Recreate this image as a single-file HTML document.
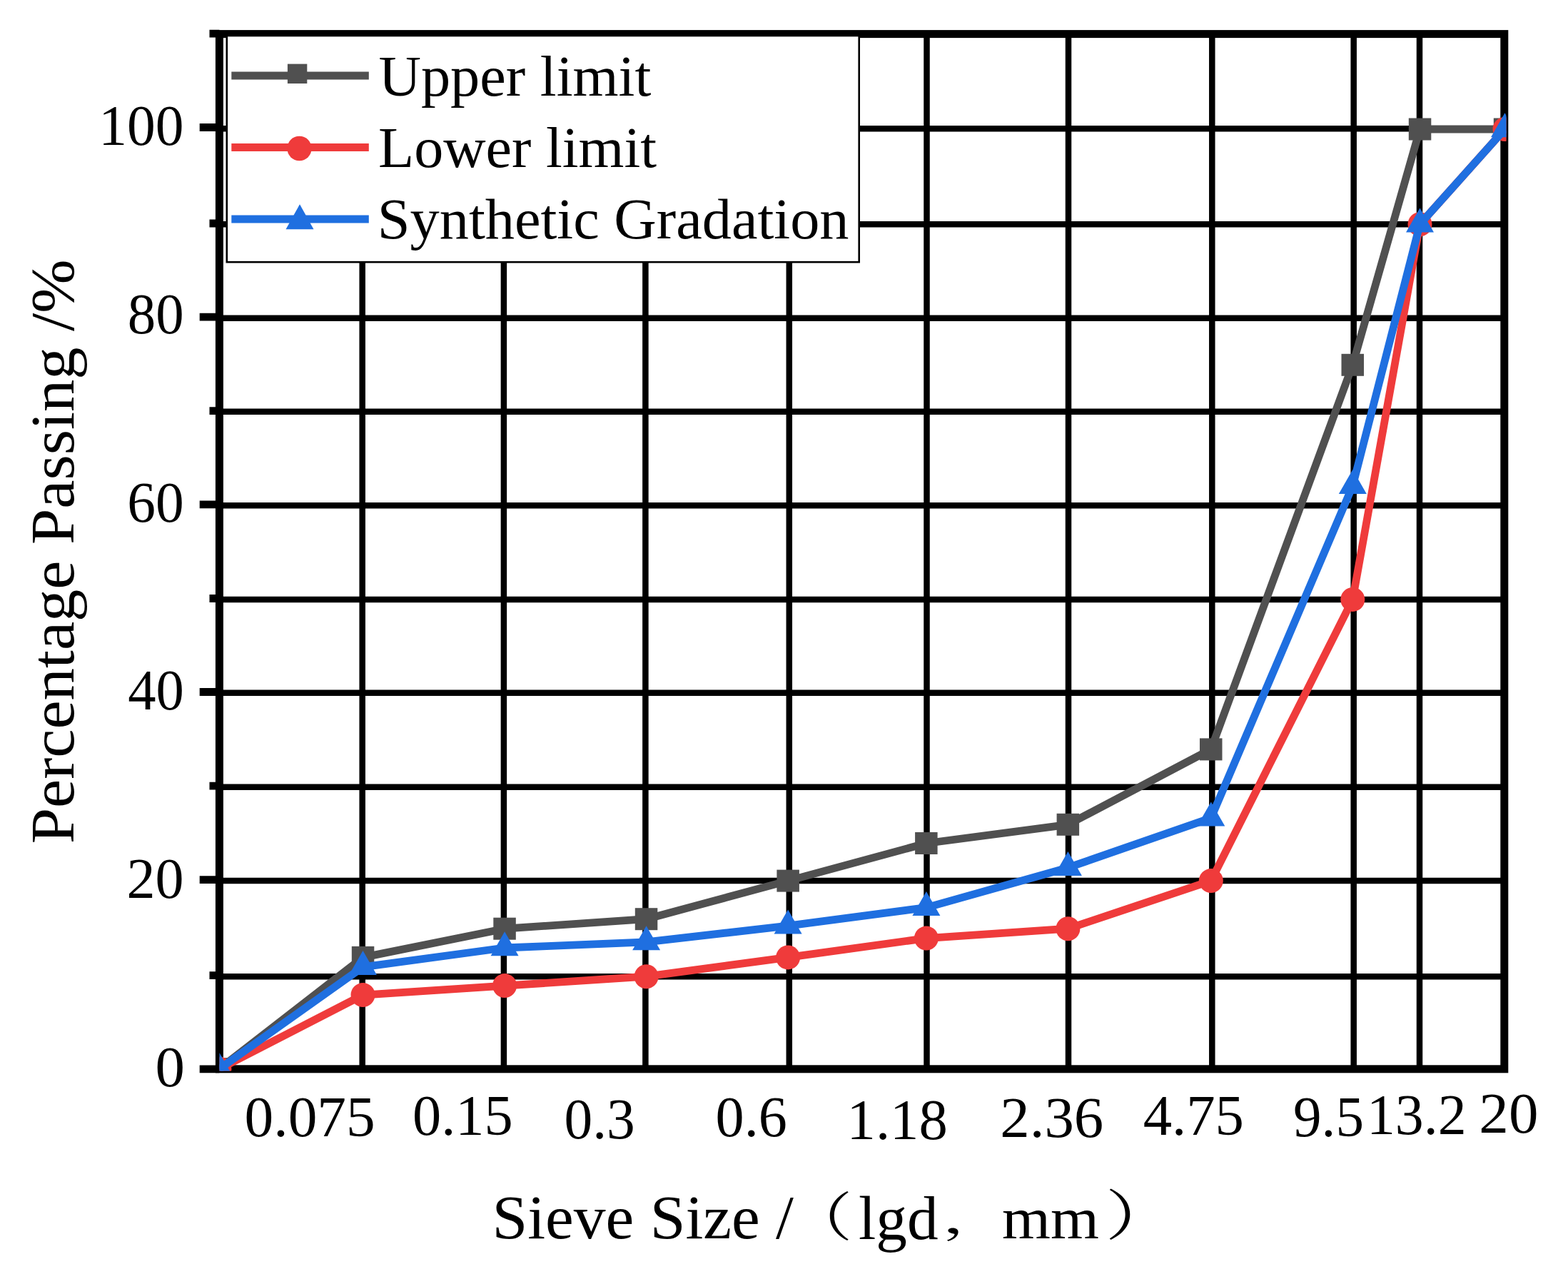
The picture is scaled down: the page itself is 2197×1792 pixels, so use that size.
<!DOCTYPE html><html><head><meta charset="utf-8"><title>Gradation curve</title>
<style>html,body{margin:0;padding:0;background:#fff;overflow:hidden;}svg{display:block;filter:blur(0.55px);}text{fill:#000;}</style></head><body>
<svg width="2197" height="1792" viewBox="0 0 2197 1792" xmlns="http://www.w3.org/2000/svg">
<rect x="0" y="0" width="2197" height="1792" fill="#fff"/>
<defs><clipPath id="pc"><rect x="307.5" y="47.6" width="1803" height="1452.9"/></clipPath></defs>
<path d="M307.4 1368.2H2107.8 M307.4 1234.1H2107.8 M307.4 1102.7H2107.8 M307.4 970.8H2107.8 M307.4 839.9H2107.8 M307.4 708.3H2107.8 M307.4 576.8H2107.8 M307.4 445.7H2107.8 M307.4 314.2H2107.8 M307.4 180.2H2107.8 M507.7 47.6V1497.8 M705.9 47.6V1497.8 M904.4 47.6V1497.8 M1105.8 47.6V1497.8 M1298.5 47.6V1497.8 M1497.0 47.6V1497.8 M1698.3 47.6V1497.8 M1896.7 47.6V1497.8 M1989.0 47.6V1497.8" stroke="#000" stroke-width="8.5" fill="none"/>
<path d="M279.7 1497.8H307.4 M293.5 1366.7H307.4 M279.7 1232.7H307.4 M293.5 1101.2H307.4 M279.7 969.5H307.4 M293.5 838.5H307.4 M279.7 706.9H307.4 M293.5 575.6H307.4 M279.7 444.2H307.4 M293.5 313.0H307.4 M279.7 178.5H307.4 M293.5 47.2H307.4" stroke="#000" stroke-width="10.8" fill="none"/>
<rect x="307.4" y="47.6" width="1800.4" height="1450.2" fill="none" stroke="#000" stroke-width="11"/>
<g clip-path="url(#pc)">
<path d="M307.4 1497.6 L508.5 1341.4 L707.1 1301.2 L905.6 1287.7 L1104.1 1234.1 L1297.9 1181.5 L1496.4 1155.3 L1696.8 1049.9 L1895.3 511.2 L1989.5 181.0 L2108.5 181.0" stroke="#505050" stroke-width="10.8" fill="none" stroke-linejoin="round"/>
<rect x="291.6" y="1482.1" width="31.5" height="31" fill="#505050"/>
<rect x="492.8" y="1325.9" width="31.5" height="31" fill="#505050"/>
<rect x="691.3" y="1285.7" width="31.5" height="31" fill="#505050"/>
<rect x="889.8" y="1272.2" width="31.5" height="31" fill="#505050"/>
<rect x="1088.4" y="1218.6" width="31.5" height="31" fill="#505050"/>
<rect x="1282.1" y="1166.0" width="31.5" height="31" fill="#505050"/>
<rect x="1480.6" y="1139.8" width="31.5" height="31" fill="#505050"/>
<rect x="1681.0" y="1034.4" width="31.5" height="31" fill="#505050"/>
<rect x="1879.5" y="495.8" width="31.5" height="31" fill="#505050"/>
<rect x="1973.8" y="165.5" width="31.5" height="31" fill="#505050"/>
<rect x="2092.8" y="165.5" width="31.5" height="31" fill="#505050"/>
<path d="M307.4 1497.6 L508.5 1394.1 L707.1 1381.1 L905.6 1368.2 L1104.1 1341.4 L1297.9 1314.6 L1496.4 1301.2 L1696.8 1234.1 L1895.3 839.9 L1989.5 314.2 L2108.5 181.0" stroke="#ef3b3b" stroke-width="10.8" fill="none" stroke-linejoin="round"/>
<circle cx="307.4" cy="1497.6" r="17" fill="#ef3b3b"/>
<circle cx="508.5" cy="1394.1" r="17" fill="#ef3b3b"/>
<circle cx="707.1" cy="1381.1" r="17" fill="#ef3b3b"/>
<circle cx="905.6" cy="1368.2" r="17" fill="#ef3b3b"/>
<circle cx="1104.1" cy="1341.4" r="17" fill="#ef3b3b"/>
<circle cx="1297.9" cy="1314.6" r="17" fill="#ef3b3b"/>
<circle cx="1496.4" cy="1301.2" r="17" fill="#ef3b3b"/>
<circle cx="1696.8" cy="1234.1" r="17" fill="#ef3b3b"/>
<circle cx="1895.3" cy="839.9" r="17" fill="#ef3b3b"/>
<circle cx="1989.5" cy="314.2" r="17" fill="#ef3b3b"/>
<circle cx="2108.5" cy="181.0" r="17" fill="#ef3b3b"/>
<path d="M307.4 1497.6 L508.5 1354.8 L707.1 1328.0 L905.6 1319.9 L1104.1 1297.1 L1297.9 1271.6 L1496.4 1215.7 L1696.8 1146.1 L1895.3 680.7 L1989.5 314.2 L2108.5 181.0" stroke="#1f6fe0" stroke-width="10.8" fill="none" stroke-linejoin="round"/>
<path d="M307.4 1474.9L326.9 1508.9L287.9 1508.9Z" fill="#1f6fe0"/>
<path d="M508.5 1332.1L528.0 1366.1L489.0 1366.1Z" fill="#1f6fe0"/>
<path d="M707.1 1305.3L726.6 1339.3L687.6 1339.3Z" fill="#1f6fe0"/>
<path d="M905.6 1297.3L925.1 1331.3L886.1 1331.3Z" fill="#1f6fe0"/>
<path d="M1104.1 1274.5L1123.6 1308.5L1084.6 1308.5Z" fill="#1f6fe0"/>
<path d="M1297.9 1249.0L1317.4 1283.0L1278.4 1283.0Z" fill="#1f6fe0"/>
<path d="M1496.4 1193.0L1515.9 1227.0L1476.9 1227.0Z" fill="#1f6fe0"/>
<path d="M1696.8 1123.4L1716.3 1157.4L1677.3 1157.4Z" fill="#1f6fe0"/>
<path d="M1895.3 658.0L1914.8 692.0L1875.8 692.0Z" fill="#1f6fe0"/>
<path d="M1989.5 291.5L2009.0 325.5L1970.0 325.5Z" fill="#1f6fe0"/>
<path d="M2108.5 158.3L2128.0 192.3L2089.0 192.3Z" fill="#1f6fe0"/>
</g>
<rect x="317.8" y="50" width="885.9" height="317.2" fill="#fff" stroke="#000" stroke-width="2.6"/>
<path d="M324.3 106.0H516.8" stroke="#505050" stroke-width="10.8"/>
<path d="M324.3 206.5H516.8" stroke="#ef3b3b" stroke-width="10.8"/>
<path d="M324.3 307.0H516.8" stroke="#1f6fe0" stroke-width="10.8"/>
<rect x="402.9" y="89.6" width="27.4" height="27.4" fill="#505050"/>
<circle cx="419.5" cy="208.0" r="17.2" fill="#ef3b3b"/>
<path d="M420.0 286.2L439.5 321.2L400.5 321.2Z" fill="#1f6fe0"/>
<text id="lg1" x="530.50" y="133.70" font-family="'Liberation Serif'" font-size="80.00" textLength="381.83" lengthAdjust="spacingAndGlyphs">Upper limit</text>
<text id="lg2" x="530.04" y="233.90" font-family="'Liberation Serif'" font-size="80.00" textLength="390.01" lengthAdjust="spacingAndGlyphs">Lower limit</text>
<text id="lg3" x="528.84" y="334.00" font-family="'Liberation Serif'" font-size="80.00" textLength="660.67" lengthAdjust="spacingAndGlyphs">Synthetic Gradation</text>
<text id="y100" x="138.24" y="203.00" font-family="'Liberation Serif'" font-size="80.00" textLength="119.34" lengthAdjust="spacingAndGlyphs">100</text>
<text id="y80" x="178.80" y="466.70" font-family="'Liberation Serif'" font-size="80.00" textLength="78.80" lengthAdjust="spacingAndGlyphs">80</text>
<text id="y60" x="178.27" y="731.10" font-family="'Liberation Serif'" font-size="80.00" textLength="79.46" lengthAdjust="spacingAndGlyphs">60</text>
<text id="y40" x="179.18" y="994.40" font-family="'Liberation Serif'" font-size="80.00" textLength="78.62" lengthAdjust="spacingAndGlyphs">40</text>
<text id="y20" x="177.45" y="1257.60" font-family="'Liberation Serif'" font-size="80.00" textLength="80.11" lengthAdjust="spacingAndGlyphs">20</text>
<text id="y0" x="217.49" y="1522.40" font-family="'Liberation Serif'" font-size="80.00" textLength="41.43" lengthAdjust="spacingAndGlyphs">0</text>
<text id="x1" x="342.59" y="1592.20" font-family="'Liberation Serif'" font-size="80.00" textLength="183.21" lengthAdjust="spacingAndGlyphs">0.075</text>
<text id="x2" x="577.93" y="1589.50" font-family="'Liberation Serif'" font-size="80.00" textLength="140.73" lengthAdjust="spacingAndGlyphs">0.15</text>
<text id="x3" x="790.42" y="1594.90" font-family="'Liberation Serif'" font-size="80.00" textLength="99.36" lengthAdjust="spacingAndGlyphs">0.3</text>
<text id="x4" x="1002.59" y="1591.80" font-family="'Liberation Serif'" font-size="80.00" textLength="100.21" lengthAdjust="spacingAndGlyphs">0.6</text>
<text id="x5" x="1186.59" y="1595.60" font-family="'Liberation Serif'" font-size="80.00" textLength="141.19" lengthAdjust="spacingAndGlyphs">1.18</text>
<text id="x6" x="1401.34" y="1592.70" font-family="'Liberation Serif'" font-size="80.00" textLength="144.90" lengthAdjust="spacingAndGlyphs">2.36</text>
<text id="x7" x="1601.63" y="1590.10" font-family="'Liberation Serif'" font-size="80.00" textLength="141.35" lengthAdjust="spacingAndGlyphs">4.75</text>
<text id="x8" x="1812.03" y="1592.30" font-family="'Liberation Serif'" font-size="80.00" textLength="98.94" lengthAdjust="spacingAndGlyphs">9.5</text>
<text id="x9" x="1914.91" y="1589.30" font-family="'Liberation Serif'" font-size="80.00" textLength="139.78" lengthAdjust="spacingAndGlyphs">13.2</text>
<text id="x10" x="2072.38" y="1587.30" font-family="'Liberation Serif'" font-size="80.00" textLength="83.04" lengthAdjust="spacingAndGlyphs">20</text>
<text id="t1" x="689.43" y="1734.69" font-family="'Liberation Serif'" font-size="86.00" textLength="422.58" lengthAdjust="spacingAndGlyphs">Sieve Size /</text>
<text id="t2" x="1104.02" y="1730.62" font-family="'Noto Serif CJK SC'" font-size="73.66" textLength="90.36" lengthAdjust="spacingAndGlyphs">（</text>
<text id="t3" x="1203.00" y="1735.54" font-family="'Liberation Serif'" font-size="86.00" textLength="111.54" lengthAdjust="spacingAndGlyphs">lgd</text>
<text id="t4" x="1319.39" y="1727.22" font-family="'Noto Serif CJK SC'" font-size="57.42" textLength="102.00" lengthAdjust="spacingAndGlyphs">，</text>
<text id="t5" x="1404.05" y="1735.30" font-family="'Liberation Serif'" font-size="82.34" textLength="135.82" lengthAdjust="spacingAndGlyphs">mm</text>
<text id="t6" x="1548.57" y="1730.13" font-family="'Noto Serif CJK SC'" font-size="76.34" textLength="99.64" lengthAdjust="spacingAndGlyphs">）</text>
<text id="ytitle" transform="translate(103.20 1182.31) rotate(-90)" x="0" y="0" font-family="'Liberation Serif'" font-size="87" textLength="818.82" lengthAdjust="spacingAndGlyphs">Percentage Passing /%</text>
</svg></body></html>
